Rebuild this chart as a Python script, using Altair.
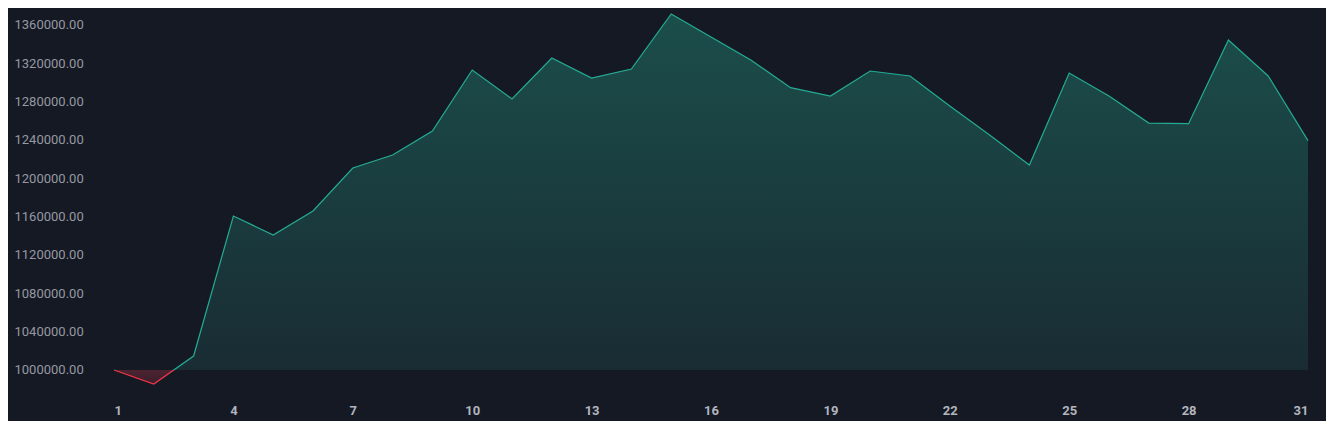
import altair as alt
import pandas as pd

days = list(range(1, 32))
values = [1000000, 985400, 1014600, 1160700, 1140900, 1165900, 1210800, 1224300,
          1249400, 1313000, 1282800, 1325600, 1304700, 1314100, 1371500, 1347500,
          1323500, 1294600, 1285900, 1312000, 1306800, 1275500, 1245200, 1213900,
          1309900, 1285900, 1257700, 1257000, 1344300, 1306800, 1239300]
baseline = 1000000
y_ticks = list(range(1000000, 1360001, 40000))
x_ticks = list(range(1, 32, 3))

df = pd.DataFrame({"day": days, "value": values, "base": [baseline] * len(days)})

vmax, vmin = max(values), min(values)
off = (vmax - baseline) / (vmax - vmin)

BG = "#151924"
UP_LINE = "#22ab94"
DN_LINE = "#f23645"

fill_grad = alt.Gradient(
    gradient="linear", x1=0, y1=0, x2=0, y2=1,
    stops=[
        alt.GradientStop(offset=0, color="#1b4e4a"),
        alt.GradientStop(offset=off, color="#192c33"),
        alt.GradientStop(offset=off, color="#4d2331"),
        alt.GradientStop(offset=1, color="#3a1e2a"),
    ],
)
line_grad = alt.Gradient(
    gradient="linear", x1=0, y1=0, x2=0, y2=1,
    stops=[
        alt.GradientStop(offset=0, color=UP_LINE),
        alt.GradientStop(offset=off, color=UP_LINE),
        alt.GradientStop(offset=off, color=DN_LINE),
        alt.GradientStop(offset=1, color=DN_LINE),
    ],
)

x_enc = alt.X("day:Q", scale=alt.Scale(domain=[1, 31], nice=False, zero=False),
              axis=alt.Axis(values=x_ticks, format="d", title=None, grid=False,
                            domain=False, ticks=False, labelPadding=14,
                            labelFont="Roboto", labelFontSize=13, labelFontWeight="bold",
                            labelColor="#b2b5be"))
y_scale = alt.Scale(domain=[979130, 1377739], nice=False, zero=False)
y_enc = alt.Y("value:Q", scale=y_scale,
              axis=alt.Axis(values=y_ticks, format=".2f", title=None, grid=False,
                            domain=False, ticks=False, labelAlign="left",
                            labelPadding=100, labelFont="Roboto", labelFontSize=13,
                            labelColor="#9598a1"))

area = alt.Chart(df).mark_area(fill=fill_grad, opacity=1).encode(
    x=x_enc, y=y_enc, y2="base:Q"
)
line = alt.Chart(df).mark_line(stroke=line_grad, strokeWidth=1.2).encode(
    x="day:Q", y="value:Q"
)

chart = (area + line).properties(
    width=1194, height=382,
    background=BG,
    padding={"left": 106, "top": 0, "right": 18, "bottom": 31},
    autosize=alt.AutoSizeParams(type="none"),
).configure_view(strokeWidth=0)

chart.save("out.html", embed_options={"renderer": "svg", "actions": False})
